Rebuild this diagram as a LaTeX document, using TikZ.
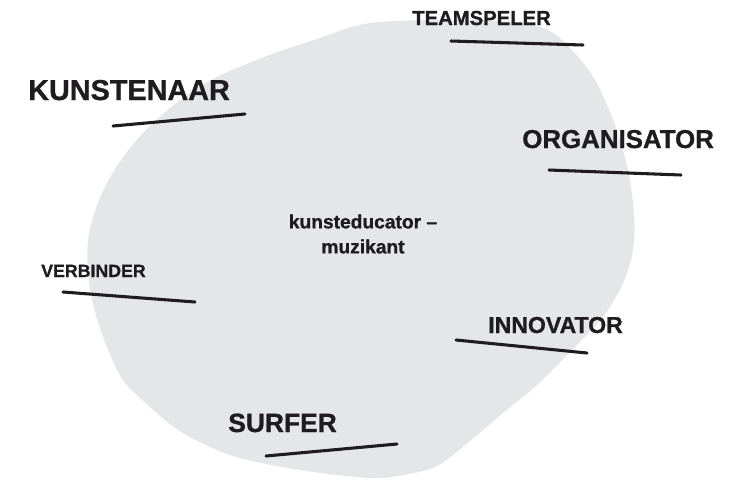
\documentclass[tikz,border=0pt]{standalone}
\usepackage{fontspec}
\setmainfont{Liberation Sans}[BoldFeatures={FakeBold=0.9}]
\definecolor{blobgrey}{RGB}{229,230,232}
\definecolor{inkblack}{RGB}{30,28,30}
\begin{document}
\begin{tikzpicture}[x=0.75pt,y=-0.75pt,
  lbl/.style={anchor=base west,inner sep=0pt,text=inkblack,font=\bfseries},
  stroke/.style={draw=inkblack,line width=2.3pt,line cap=round}]
\useasboundingbox (0,0) rectangle (739,480);
\fill[blobgrey] plot[smooth cycle,tension=0.55] coordinates {
 (370,23) (450,20) (515,22) (548,30) (572,50) (595,80) (615,125) (628,170)
 (634,215) (633,250) (623,283) (603,317) (570,352) (537,385) (503,413)
 (470,441) (437,466) (403,475) (370,478) (300,470) (233,456) (183,433)
 (150,407) (123,380) (107,347) (96,315) (89,283) (88,240) (99,200)
 (117,166) (143,133) (180,100) (217,77) (267,56) (317,39)};
% labels
\node[lbl,font=\bfseries\fontsize{21.6pt}{24pt}\selectfont] (kunst) at (28,100) {KUNSTENAAR};
\node[lbl,font=\bfseries\fontsize{15.2pt}{18pt}\selectfont] (team) at (412,25) {TEAMSPELER};
\node[lbl,font=\bfseries\fontsize{19.4pt}{22pt}\selectfont] (org) at (522,148) {ORGANISATOR};
\node[lbl,font=\bfseries\fontsize{13.3pt}{16pt}\selectfont] (verb) at (41,277) {VERBINDER};
\node[lbl,font=\bfseries\fontsize{17.3pt}{20pt}\selectfont] (inno) at (488,333) {INNOVATOR};
\node[lbl,font=\bfseries\fontsize{19.8pt}{22pt}\selectfont] (surf) at (228,432) {SURFER};
\node[inner sep=0pt,align=center,text=inkblack,font=\bfseries\fontsize{14.4pt}{18.75pt}\selectfont] (center) at (363,234) {kunsteducator –\\muzikant};
% strokes
\draw[stroke] (113,126) -- (245,114);
\draw[stroke] (451,41) -- (583,45);
\draw[stroke] (549,170) -- (681,175);
\draw[stroke] (63,292) -- (195,302);
\draw[stroke] (456,340) -- (587,353);
\draw[stroke] (266,456) -- (397,444);
\end{tikzpicture}
\end{document}
